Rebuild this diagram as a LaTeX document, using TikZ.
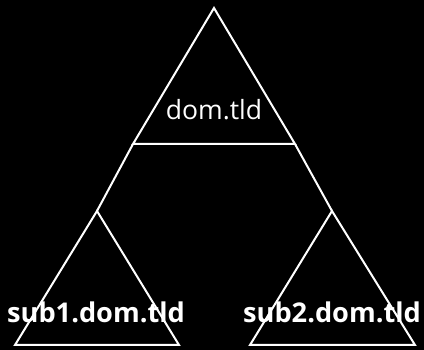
\documentclass[tikz,border=0pt]{standalone}
\usepackage{fontspec}
\setmainfont{Open Sans}
\begin{document}
\begin{tikzpicture}[x=1pt,y=-1pt,
  edge/.style={draw=white,line width=2pt,line join=miter},
  toplabel/.style={text=white,anchor=base,inner sep=0pt,font=\fontsize{26.5}{32}\selectfont},
  sublabel/.style={text=white,anchor=base,inner sep=0pt,font=\fontsize{27.2}{32}\selectfont\bfseries}]
\fill[black] (0,0) rectangle (424,350);
\useasboundingbox (0,0) rectangle (424,350);
% top triangle
\coordinate (A) at (214,8);
\coordinate (TL) at (133,144);
\coordinate (TR) at (295,144);
% left sub triangle
\coordinate (L) at (97,211);
\coordinate (LL) at (15,345);
\coordinate (LR) at (179,345);
% right sub triangle
\coordinate (R) at (332,211);
\coordinate (RL) at (250,345);
\coordinate (RR) at (415,345);
\draw[edge] (TL) -- (A) -- (TR) -- cycle;
\draw[edge] (LL) -- (L) -- (LR) -- cycle;
\draw[edge] (RL) -- (R) -- (RR) -- cycle;
\draw[edge] (TL) -- (L);
\draw[edge] (TR) -- (R);
\node[toplabel] (top) at (214,120) {dom.tld};
\node[sublabel] (sub1) at (96,323) {sub1.dom.tld};
\node[sublabel] (sub2) at (332,323) {sub2.dom.tld};
\end{tikzpicture}
\end{document}
